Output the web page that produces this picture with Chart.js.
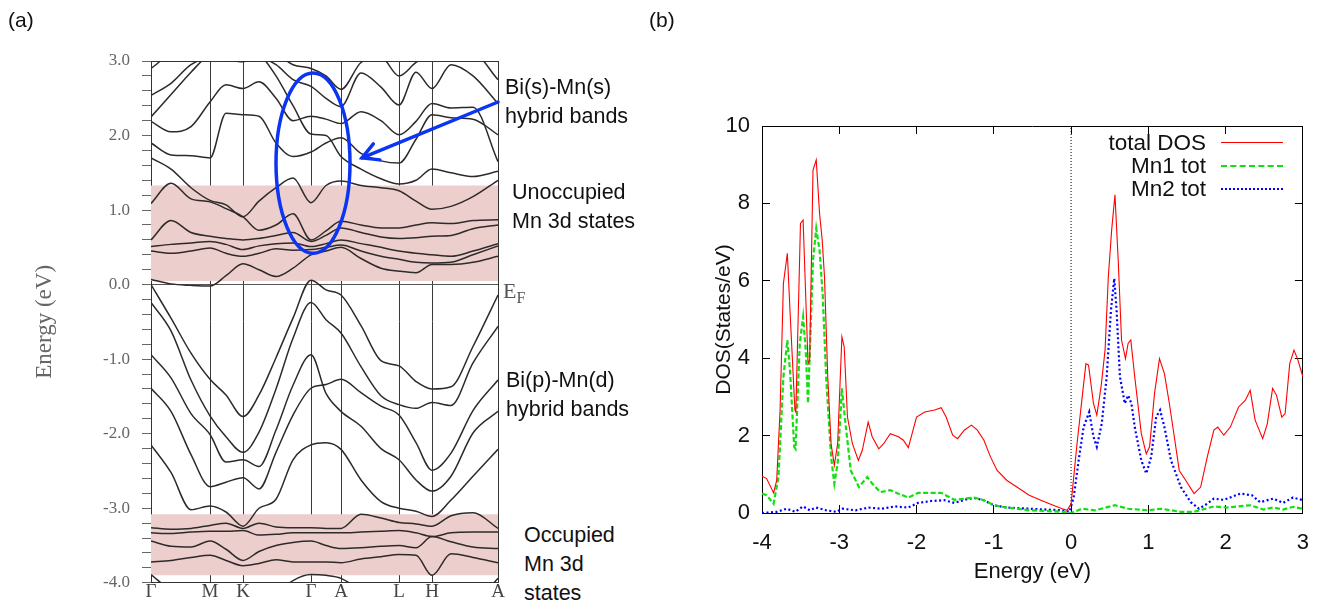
<!DOCTYPE html>
<html>
<head>
<meta charset="utf-8">
<title>MnBi band structure and DOS</title>
<script src="https://cdn.jsdelivr.net/npm/chart.js@4.4.1/dist/chart.umd.min.js"></script>
<style>
  html, body { margin: 0; padding: 0; background: #fff; }
  #page { position: relative; width: 1334px; height: 605px; overflow: hidden;
          font-family: "Liberation Sans", Arial, Helvetica, sans-serif; }
  #bandCanvas { position: absolute; left: 0; top: 0; }
  #dosCanvas { position: absolute; left: 650px; top: 0; }
  .tag { position: absolute; font-size: 21px; color: #111; }
  .note { position: absolute; font-size: 21.5px; line-height: 29px; color: #111; white-space: nowrap; }
  .ef { position: absolute; font-family: "Liberation Serif", "Times New Roman", serif; font-size: 22px; color: #555; line-height: 22px; }
  .ef sub { font-size: 16px; }
  #legend { position: absolute; left: 1083px; top: 131px; width: 200px; font-size: 22.5px; color: #111; }
  #legend .row { display: flex; align-items: center; height: 23px; }
  #legend .txt { flex: 1; text-align: right; white-space: nowrap; }
  #legend .smp { width: 62px; margin-left: 15px; height: 0; }
</style>
</head>
<body>
<div id="page">
  <canvas id="bandCanvas" width="520" height="605"></canvas>
  <canvas id="dosCanvas" width="684" height="605"></canvas>

  <div class="tag" style="left:8px; top:8px;">(a)</div>
  <div class="tag" style="left:649px; top:8px;">(b)</div>

  <div class="note" style="left:505px; top:73px;">Bi(s)-Mn(s)<br>hybrid bands</div>
  <div class="note" style="left:512px; top:178px;">Unoccupied<br>Mn 3d states</div>
  <div class="ef" style="left:503px; top:280px;">E<sub>F</sub></div>
  <div class="note" style="left:506px; top:366px;">Bi(p)-Mn(d)<br>hybrid bands</div>
  <div class="note" style="left:524px; top:521px;">Occupied<br>Mn 3d<br>states</div>

  <div id="legend"></div>
</div>

<script>
/* ===================================
   BAND STRUCTURE + DOS
   =================================== */

// ---- DATA: BAND STRUCTURE (panel a) ----
// k-path distance, high-symmetry points sit at the tick positions
const kPos = [0, 20, 40, 59, 75, 92, 108, 125, 142, 160, 175, 190, 210, 230, 248, 265, 281, 300, 322, 347];
const kTicks = [0, 59, 92, 160, 190, 248, 281, 347];
const kLabels = ['Γ', 'M', 'K', 'Γ', 'A', 'L', 'H', 'A'];

// occupied Bi(p)-Mn(d) bands
const vb1 = [0.00, -0.45, -0.92, -1.27, -1.48, -1.77, -1.48, -0.98, -0.45, 0.06, -0.07, -0.14, -0.55, -1.02, -1.09, -1.30, -1.40, -1.37, -0.83, -0.14];
const vb2 = [-0.24, -0.62, -1.28, -1.76, -2.04, -2.25, -1.98, -1.40, -0.72, -0.24, -0.47, -0.65, -1.10, -1.49, -1.61, -1.66, -1.58, -1.62, -1.05, -0.56];
const vb3 = [-0.94, -1.25, -1.73, -2.01, -2.38, -2.35, -2.44, -1.95, -1.35, -0.94, -1.46, -1.70, -1.90, -2.20, -2.35, -2.62, -2.77, -2.57, -1.99, -1.70];
const vb4 = [-1.39, -1.70, -2.28, -2.71, -2.65, -2.59, -2.74, -2.25, -1.75, -1.39, -1.34, -1.27, -1.45, -1.63, -1.75, -2.12, -2.49, -2.26, -1.69, -1.28];
const vb5 = [-2.15, -2.52, -3.02, -2.97, -3.05, -3.24, -3.00, -2.88, -2.35, -2.15, -2.12, -2.21, -2.62, -2.91, -3.00, -3.04, -3.11, -2.89, -2.57, -2.21];

// occupied Mn 3d bands
const od1 = [-3.26, -3.28, -3.27, -3.23, -3.20, -3.27, -3.20, -3.25, -3.26, -3.26, -3.27, -3.27, -3.08, -3.13, -3.19, -3.21, -3.24, -3.10, -3.06, -3.27];
const od2 = [-3.33, -3.34, -3.32, -3.31, -3.31, -3.30, -3.36, -3.35, -3.33, -3.33, -3.33, -3.33, -3.32, -3.31, -3.30, -3.33, -3.38, -3.33, -3.32, -3.32];
const od3 = [-3.44, -3.51, -3.52, -3.44, -3.55, -3.70, -3.58, -3.50, -3.46, -3.44, -3.50, -3.54, -3.53, -3.51, -3.50, -3.53, -3.38, -3.45, -3.52, -3.54];
const od4 = [-3.72, -3.70, -3.66, -3.63, -3.70, -3.77, -3.74, -3.69, -3.72, -3.72, -3.72, -3.73, -3.68, -3.65, -3.62, -3.63, -3.90, -3.61, -3.66, -3.73];
const od5 = [-3.89, -4.12, -4.40, -4.50, -4.50, -4.50, -4.40, -4.15, -3.97, -3.89, -3.90, -3.94, -4.12, -4.40, -4.50, -4.50, -4.50, -4.40, -4.30, -3.94];

// unoccupied Mn 3d bands
const ud1 = [0.07, 0.01, -0.01, -0.02, 0.12, 0.28, 0.20, 0.11, 0.22, 0.40, 0.45, 0.50, 0.35, 0.22, 0.18, 0.16, 0.27, 0.27, 0.30, 0.38];
const ud2 = [0.45, 0.42, 0.45, 0.49, 0.42, 0.38, 0.42, 0.48, 0.46, 0.47, 0.50, 0.53, 0.45, 0.38, 0.34, 0.30, 0.29, 0.30, 0.40, 0.52];
const ud3 = [0.51, 0.54, 0.56, 0.58, 0.54, 0.47, 0.52, 0.55, 0.56, 0.51, 0.55, 0.60, 0.55, 0.50, 0.45, 0.42, 0.40, 0.38, 0.45, 0.55];
const ud4 = [0.60, 0.86, 0.70, 0.65, 0.62, 0.60, 0.62, 0.66, 0.70, 0.58, 0.66, 0.76, 0.70, 0.64, 0.62, 0.63, 0.65, 0.66, 0.75, 0.80];
const ud5 = [1.09, 1.36, 1.15, 1.11, 1.02, 0.91, 0.73, 0.80, 0.95, 0.60, 0.72, 0.85, 0.80, 0.76, 0.76, 0.80, 0.83, 0.82, 0.86, 0.87];
const ud6 = [1.70, 1.55, 1.30, 1.13, 1.07, 0.91, 1.12, 1.30, 1.43, 1.10, 1.33, 1.39, 1.33, 1.30, 1.26, 1.12, 1.01, 1.05, 1.18, 1.40];

// Bi(s)-Mn(s) bands
const sb1 = [1.90, 1.74, 1.73, 1.70, 2.30, 2.28, 2.26, 1.90, 1.72, 1.78, 1.90, 1.97, 1.76, 1.66, 1.63, 1.95, 2.28, 2.24, 2.22, 2.01];
const sb2 = [2.19, 2.05, 2.12, 2.45, 2.68, 2.63, 2.72, 2.50, 2.20, 2.26, 2.22, 2.16, 2.32, 2.20, 2.01, 2.19, 2.43, 2.37, 2.38, 1.65];
const sb3 = [2.54, 2.70, 2.95, 3.05, 3.02, 2.99, 3.05, 2.95, 2.75, 2.66, 2.50, 2.39, 2.84, 2.65, 2.41, 2.85, 2.63, 2.95, 2.80, 2.43];
const sb4 = [2.90, 3.10, 3.20, 3.20, 3.20, 3.20, 3.20, 3.10, 2.95, 2.90, 2.80, 2.62, 2.98, 3.05, 2.80, 2.98, 3.10, 3.10, 3.10, 2.75];
const sb5 = [2.25, 2.55, 2.85, 3.10, 3.20, 3.20, 3.10, 2.80, 2.40, 2.02, 2.00, 1.72, 1.55, 1.42, 1.35, 1.40, 1.55, 1.50, 1.45, 1.52];

const bandList = [vb1, vb2, vb3, vb4, vb5, od1, od2, od3, od4, od5,
                  ud1, ud2, ud3, ud4, ud5, ud6, sb1, sb2, sb3, sb4, sb5];

// shaded Mn 3d windows (eV)
const shadeTop = [1.33, -3.08];
const shadeBottom = [0.05, -3.90];

// ---- DATA: DOS (panel b) ----
const totalE = [-4.0, -3.94, -3.85, -3.81, -3.766, -3.723, -3.672, -3.638, -3.574, -3.562, -3.502, -3.468, -3.434, -3.404, -3.383,
  -3.340, -3.298, -3.255, -3.221, -3.191, -3.149, -3.106, -3.064, -3.021, -2.966, -2.936, -2.894, -2.830, -2.753, -2.702,
  -2.626, -2.574, -2.489, -2.426, -2.340, -2.234, -2.170, -2.106, -2.0, -1.894, -1.766, -1.681, -1.617, -1.532, -1.468,
  -1.383, -1.289, -1.213, -1.128, -1.043, -0.957, -0.830, -0.702, -0.542, -0.329, -0.115, -0.051, 0.0, 0.077, 0.149,
  0.192, 0.226, 0.290, 0.333, 0.388, 0.440, 0.482, 0.525, 0.568, 0.610, 0.653, 0.704, 0.738, 0.773, 0.824,
  0.909, 0.973, 1.016, 1.080, 1.144, 1.208, 1.272, 1.336, 1.400, 1.485, 1.592, 1.677, 1.763, 1.848, 1.899,
  1.976, 2.061, 2.168, 2.254, 2.318, 2.382, 2.480, 2.540, 2.608, 2.659, 2.727, 2.770, 2.830, 2.885, 2.936, 3.0];
const totalDos = [0.95, 0.89, 0.52, 0.84, 2.66, 5.93, 6.71, 5.24, 2.66, 2.61, 7.48, 7.57, 5.59, 3.86, 3.95,
  8.86, 9.12, 7.74, 7.05, 6.10, 3.52, 1.79, 1.23, 1.79, 4.55, 4.29, 2.48, 1.79, 1.36, 1.62,
  2.35, 1.97, 1.66, 1.79, 2.05, 1.97, 1.88, 1.69, 2.48, 2.61, 2.66, 2.72, 2.48, 2.01, 1.92,
  2.14, 2.27, 2.14, 1.88, 1.45, 1.10, 0.84, 0.67, 0.46, 0.28, 0.11, 0.07, 0.24, 1.79, 3.09,
  3.86, 3.82, 2.83, 2.53, 3.26, 4.21, 6.10, 7.31, 8.22, 6.53, 4.47, 3.99, 4.38, 4.47, 3.52,
  2.05, 1.53, 1.71, 3.09, 3.99, 3.60, 2.83, 1.97, 1.10, 0.84, 0.50, 0.67, 1.45, 2.14, 2.22,
  2.01, 2.22, 2.74, 2.91, 3.17, 2.40, 1.92, 2.31, 3.22, 3.04, 2.48, 2.57, 3.86, 4.21, 3.95, 3.52];

const mn1E = [-4.0, -3.94, -3.85, -3.787, -3.723, -3.672, -3.638, -3.583, -3.566, -3.511, -3.468, -3.434, -3.404, -3.340, -3.298,
  -3.255, -3.213, -3.170, -3.106, -3.064, -3.021, -2.966, -2.915, -2.851, -2.745, -2.638, -2.574, -2.468, -2.340, -2.234,
  -2.106, -1.979, -1.809, -1.681, -1.511, -1.383, -1.255, -1.128, -1.0, -0.830, -0.702, -0.54, -0.115, 0.0, 0.14,
  0.31, 0.568, 0.74, 0.99, 1.165, 1.42, 1.59, 1.848, 2.02, 2.318, 2.49, 2.616, 2.744, 2.872, 3.0];
const mn1Dos = [0.50, 0.46, 0.24, 0.93, 3.52, 4.47, 3.69, 1.71, 1.66, 4.38, 5.07, 4.21, 2.83, 6.53, 7.35,
  6.79, 5.59, 3.52, 1.45, 0.76, 1.28, 3.22, 2.22, 1.10, 0.67, 0.93, 0.76, 0.54, 0.59, 0.50,
  0.40, 0.52, 0.52, 0.52, 0.34, 0.37, 0.40, 0.33, 0.20, 0.14, 0.11, 0.07, 0.03, 0.0, 0.11,
  0.07, 0.20, 0.11, 0.07, 0.11, 0.03, 0.03, 0.17, 0.14, 0.20, 0.09, 0.14, 0.09, 0.16, 0.11];

const mn2E = [-4.0, -3.81, -3.68, -3.57, -3.47, -3.38, -3.30, -3.17, -3.04, -2.96, -2.79, -2.62, -2.45, -2.28, -2.11,
  -1.98, -1.81, -1.64, -1.51, -1.38, -1.26, -1.13, -1.0, -0.83, -0.54, -0.115, -0.02, 0.034, 0.098, 0.162,
  0.235, 0.29, 0.333, 0.397, 0.461, 0.516, 0.559, 0.589, 0.632, 0.696, 0.738, 0.781, 0.824, 0.909, 0.973,
  1.037, 1.101, 1.152, 1.208, 1.293, 1.421, 1.549, 1.656, 1.763, 1.848, 1.976, 2.19, 2.34, 2.446, 2.616,
  2.744, 2.872, 3.0];
const mn2Dos = [0.0, 0.03, 0.11, 0.03, 0.17, 0.07, 0.14, 0.07, 0.03, 0.11, 0.07, 0.14, 0.11, 0.17, 0.14,
  0.26, 0.31, 0.33, 0.26, 0.34, 0.39, 0.33, 0.20, 0.14, 0.11, 0.07, 0.03, 0.41, 1.36, 2.22,
  2.61, 1.97, 1.71, 2.31, 3.52, 5.24, 6.06, 5.24, 3.52, 2.83, 3.04, 2.83, 2.22, 1.36, 1.02,
  1.45, 2.48, 2.66, 2.22, 1.36, 0.67, 0.28, 0.11, 0.24, 0.37, 0.34, 0.50, 0.46, 0.28, 0.37,
  0.26, 0.40, 0.33];

// ---- ANNOTATION GEOMETRY (data units) ----
const ringMark = { k: 162, e: 1.63, rk: 37, re: 1.21 };
const arrowMark = { k0: 347, e0: 2.45, k1: 211, e1: 1.70 };

const SERIF = '"Liberation Serif", "Times New Roman", serif';
const SANS = '"Liberation Sans", Arial, Helvetica, sans-serif';

function toPoints(xs, ys) {
  return ys.map((v, i) => ({ x: xs[i], y: v }));
}

// ---- PLUGIN: ring + arrow ----
const bandMarks = {
  id: 'bandMarks',
  afterDatasetsDraw(chart) {
    const { ctx, scales: { x, y } } = chart;
    const cx = x.getPixelForValue(ringMark.k);
    const cy = y.getPixelForValue(ringMark.e);
    const rx = Math.abs(x.getPixelForValue(ringMark.k + ringMark.rk) - cx);
    const ry = Math.abs(y.getPixelForValue(ringMark.e + ringMark.re) - cy);
    ctx.save();
    ctx.strokeStyle = '#0b35f2';
    ctx.lineWidth = 3.5;
    ctx.beginPath();
    ctx.ellipse(cx, cy, rx, ry, 0, 0, Math.PI * 2);
    ctx.stroke();

    const x0 = x.getPixelForValue(arrowMark.k0), y0 = y.getPixelForValue(arrowMark.e0);
    const x1 = x.getPixelForValue(arrowMark.k1), y1 = y.getPixelForValue(arrowMark.e1);
    ctx.lineCap = 'round';
    ctx.beginPath();
    ctx.moveTo(x0, y0);
    ctx.lineTo(x1, y1);
    ctx.stroke();
    const ang = Math.atan2(y1 - y0, x1 - x0);
    const head = 18, spread = 0.5;
    ctx.beginPath();
    ctx.moveTo(x1 - head * Math.cos(ang - spread), y1 - head * Math.sin(ang - spread));
    ctx.lineTo(x1, y1);
    ctx.lineTo(x1 - head * Math.cos(ang + spread), y1 - head * Math.sin(ang + spread));
    ctx.stroke();
    ctx.restore();
  }
};

// ---- CHART (a): BAND STRUCTURE ----
function initBandChart() {
  const canvas = document.getElementById('bandCanvas');
  const kMax = kTicks[kTicks.length - 1];

  const shadeSets = shadeTop.map((top, i) => ({
    data: [{ x: 0, y: top }, { x: kMax, y: top }],
    fill: { value: shadeBottom[i] },
    backgroundColor: '#eccfcd',
    borderWidth: 0,
    pointRadius: 0,
    order: 2
  }));

  const bandSets = bandList.map(b => ({
    data: toPoints(kPos, b),
    borderColor: '#2f2a2a',
    borderWidth: 1.5,
    pointRadius: 0,
    cubicInterpolationMode: 'monotone',
    fill: false,
    order: 1
  }));

  new Chart(canvas, {
    type: 'line',
    data: { datasets: [...bandSets, ...shadeSets] },
    options: {
      responsive: false,
      animation: false,
      events: [],
      layout: { padding: { left: 0, top: 61, right: 22, bottom: 0 } },
      plugins: { legend: { display: false }, tooltip: { enabled: false } },
      scales: {
        x: {
          type: 'linear', min: 0, max: kMax,
          afterBuildTicks: s => { s.ticks = kTicks.map(v => ({ value: v })); },
          afterFit: s => { s.height = 22; },
          ticks: {
            autoSkip: false, maxRotation: 0, padding: -2,
            callback: (v, i) => kLabels[i],
            font: { family: SERIF, size: 19 }, color: '#444'
          },
          grid: { color: '#3a3a3a', lineWidth: 1, drawTicks: false },
          border: { color: '#333' }
        },
        x2: {
          type: 'linear', position: 'top', min: 0, max: kMax,
          afterFit: s => { s.height = 0; },
          ticks: { display: false },
          grid: { drawOnChartArea: false, drawTicks: false },
          border: { color: '#333' }
        },
        y: {
          type: 'linear', min: -4, max: 3,
          afterFit: s => { s.width = 151; },
          ticks: {
            stepSize: 0.2, padding: 12, autoSkip: false,
            callback: v => Math.abs(v - Math.round(v)) < 1e-6 ? v.toFixed(1) : '',
            font: { family: SERIF, size: 17 }, color: '#666'
          },
          grid: {
            color: c => (c.tick && Math.abs(c.tick.value) < 1e-6) ? '#555' : 'rgba(0,0,0,0)',
            tickColor: '#666', tickLength: 9
          },
          border: { color: '#333' },
          title: {
            display: true, text: 'Energy (eV)', color: '#666',
            font: { family: SERIF, size: 23 }, padding: { top: 31, bottom: 0 }
          }
        },
        y2: {
          type: 'linear', position: 'right', min: -4, max: 3,
          afterFit: s => { s.width = 0; },
          ticks: { display: false },
          grid: { drawOnChartArea: false, drawTicks: false },
          border: { color: '#333' }
        }
      }
    },
    plugins: [bandMarks]
  });
}

// ---- CHART (b): DOS ----
function initDosChart() {
  const canvas = document.getElementById('dosCanvas');
  const inTick = { drawOnChartArea: false, tickLength: -8, color: '#000', lineWidth: 1 };

  const chart = new Chart(canvas, {
    type: 'line',
    data: {
      datasets: [
        { label: 'total DOS', data: toPoints(totalE, totalDos), borderColor: '#ff0000', borderWidth: 1.1, pointRadius: 0, tension: 0 },
        { label: 'Mn1 tot', data: toPoints(mn1E, mn1Dos), borderColor: '#11e011', borderWidth: 2.2, borderDash: [5, 2.5], pointRadius: 0, tension: 0 },
        { label: 'Mn2 tot', data: toPoints(mn2E, mn2Dos), borderColor: '#0000ff', borderWidth: 2.2, borderDash: [2, 2.5], pointRadius: 0, tension: 0 },
        { data: [{ x: 0, y: 0 }, { x: 0, y: 10 }], borderColor: '#000', borderWidth: 1, borderDash: [1, 2], pointRadius: 0 }
      ]
    },
    options: {
      responsive: false,
      animation: false,
      events: [],
      layout: { padding: { left: 0, top: 126, right: 24, bottom: 0 } },
      plugins: { legend: { display: false }, tooltip: { enabled: false } },
      scales: {
        x: {
          type: 'linear', min: -4, max: 3,
          afterFit: s => { s.height = 92; },
          ticks: { stepSize: 1, padding: 25, font: { family: SANS, size: 22 }, color: '#111' },
          grid: inTick,
          border: { color: '#000' },
          title: { display: true, text: 'Energy (eV)', color: '#111', font: { family: SANS, size: 22 }, padding: { top: 0, bottom: 20 } }
        },
        x2: {
          type: 'linear', position: 'top', min: -4, max: 3,
          afterFit: s => { s.height = 0; },
          ticks: { stepSize: 1, display: false },
          grid: inTick,
          border: { color: '#000' }
        },
        y: {
          type: 'linear', min: 0, max: 10,
          afterFit: s => { s.width = 112; },
          ticks: { stepSize: 2, padding: 20, font: { family: SANS, size: 22 }, color: '#111' },
          grid: inTick,
          border: { color: '#000' },
          title: { display: true, text: 'DOS(States/eV)', color: '#111', font: { family: SANS, size: 21 }, padding: { top: 62, bottom: 0 } }
        },
        y2: {
          type: 'linear', position: 'right', min: 0, max: 10,
          afterFit: s => { s.width = 0; },
          ticks: { stepSize: 2, display: false },
          grid: inTick,
          border: { color: '#000' }
        }
      }
    }
  });
  buildLegend(chart);
}

// ---- LEGEND (b) ----
function buildLegend(chart) {
  const box = document.getElementById('legend');
  chart.data.datasets.filter(ds => ds.label).forEach(ds => {
    const dash = ds.borderDash || [];
    const style = !dash.length ? 'solid' : (dash[0] <= 2 ? 'dotted' : 'dashed');
    const row = document.createElement('div');
    row.className = 'row';
    row.innerHTML = `<span class="txt">${ds.label}</span>
      <span class="smp" style="border-top:${Math.round(ds.borderWidth)}px ${style} ${ds.borderColor}"></span>`;
    box.appendChild(row);
  });
}

// ---- INIT ----
initBandChart();
initDosChart();
</script>
</body>
</html>
